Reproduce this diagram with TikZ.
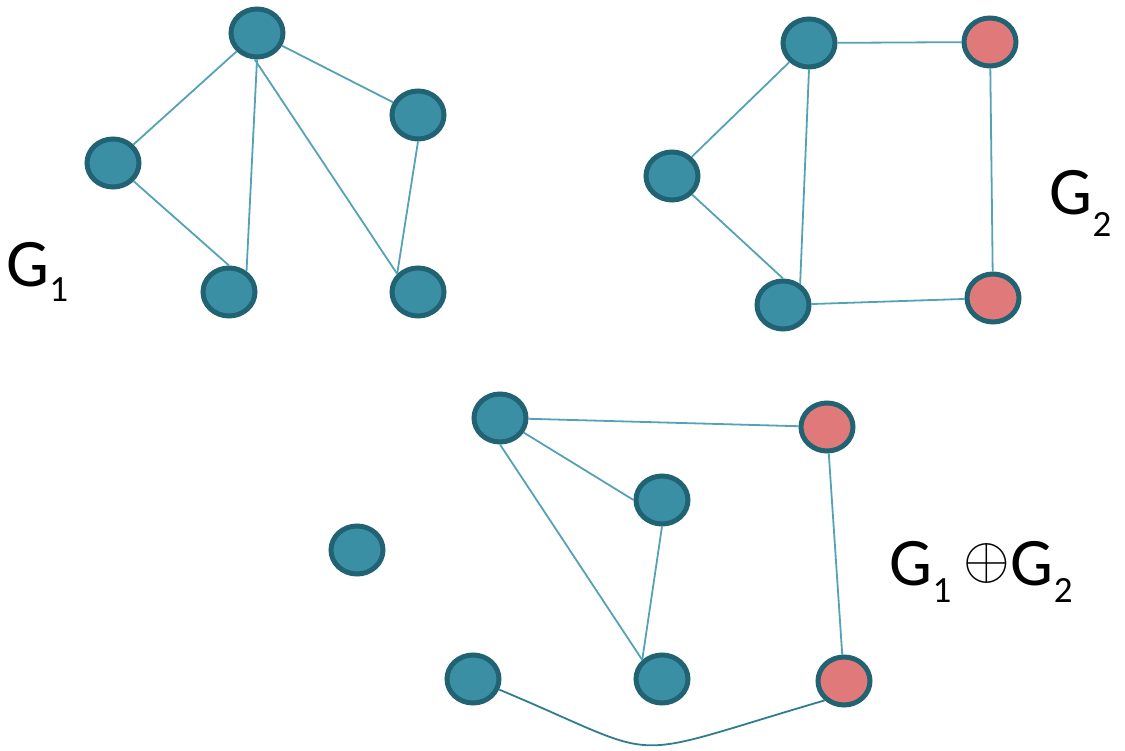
\documentclass[tikz,border=0pt]{standalone}
\usepackage{fontspec}
\setmainfont{Carlito}
\usetikzlibrary{shapes.geometric}
\definecolor{tealfill}{HTML}{3B8FA5}
\definecolor{tealline}{HTML}{216373}
\definecolor{redfill}{HTML}{E07A7A}
\definecolor{edgecol}{HTML}{54A2B6}
\definecolor{curvecol}{HTML}{2F7D8E}
\newcommand{\mainsize}{\fontsize{68}{68}\selectfont}
\newcommand{\subsize}{\fontsize{37}{37}\selectfont}
\tikzset{
  vtx/.style={ellipse, draw=tealline, line width=5pt, fill=tealfill,
    minimum width=52pt, minimum height=48pt, inner sep=0pt},
  rvtx/.style={vtx, fill=redfill},
  edge/.style={draw=edgecol, line width=1.8pt},
  curvedge/.style={draw=curvecol, line width=1.8pt},
  lbl/.style={inner sep=0pt, outer sep=0pt, anchor=base west, font=\mainsize}
}
\begin{document}
\begin{tikzpicture}[x=1pt,y=-1pt]
\useasboundingbox (0,0) rectangle (1125,751);
% G1
\node[vtx] (a1) at (257,33) {};
\node[vtx] (a2) at (113,163) {};
\node[vtx] (a3) at (229,292) {};
\node[vtx] (a4) at (418,115) {};
\node[vtx] (a5) at (418,292) {};
% G2
\node[vtx] (b1) at (809,43) {};
\node[vtx] (b2) at (672,176) {};
\node[vtx] (b3) at (783,305) {};
\node[rvtx] (b4) at (990,42) {};
\node[rvtx] (b5) at (993,298) {};
% G1 + G2
\node[vtx] (c1) at (500,418) {};
\node[vtx] (c2) at (662,500) {};
\node[vtx] (c3) at (357,550) {};
\node[vtx] (c4) at (473,679) {};
\node[vtx] (c5) at (662,679) {};
\node[rvtx] (c6) at (827,427) {};
\node[rvtx] (c7) at (844,681) {};
% edges G1
\path[edge] (a1) -- (a2);
\path[edge] (a1.south) -- (a3.50);
\path[edge] (a1.-95) -- (a5.139);
\path[edge] (a1) -- (a4);
\path[edge] (a2) -- (a3.north);
\path[edge] (a4.south) -- (a5.139);
% edges G2
\path[edge] (b1) -- (b4);
\path[edge] (b1) -- (b2);
\path[edge] (b1.south) -- (b3.51);
\path[edge] (b2) -- (b3.north);
\path[edge] (b3) -- (b5);
\path[edge] (b4) -- (b5);
% edges G1+G2
\path[edge] (c1) -- (c6);
\path[edge] (c1) -- (c2.west);
\path[edge] (c1.south) -- (c5.136);
\path[edge] (c2.south) -- (c5.136);
\path[edge] (c6) -- (c7);
\path[curvedge] (c4.-22) .. controls (672,762) and (614,762) .. (c7.-135);
% labels
\node[lbl] (g1) at (6.6,287) {G\raisebox{-15pt}{\subsize 1}};
\node[lbl] (g2) at (1049.6,215) {G\raisebox{-22pt}{\subsize 2}};
\node[lbl] (g12) at (889.6,585) {G\raisebox{-17pt}{\subsize 1}\kern12.5pt\raisebox{6pt}{\fontsize{10}{10}\selectfont\scalebox{6}{$\oplus$}}\kern0.5pt G\raisebox{-17pt}{\subsize 2}};
\end{tikzpicture}
\end{document}
